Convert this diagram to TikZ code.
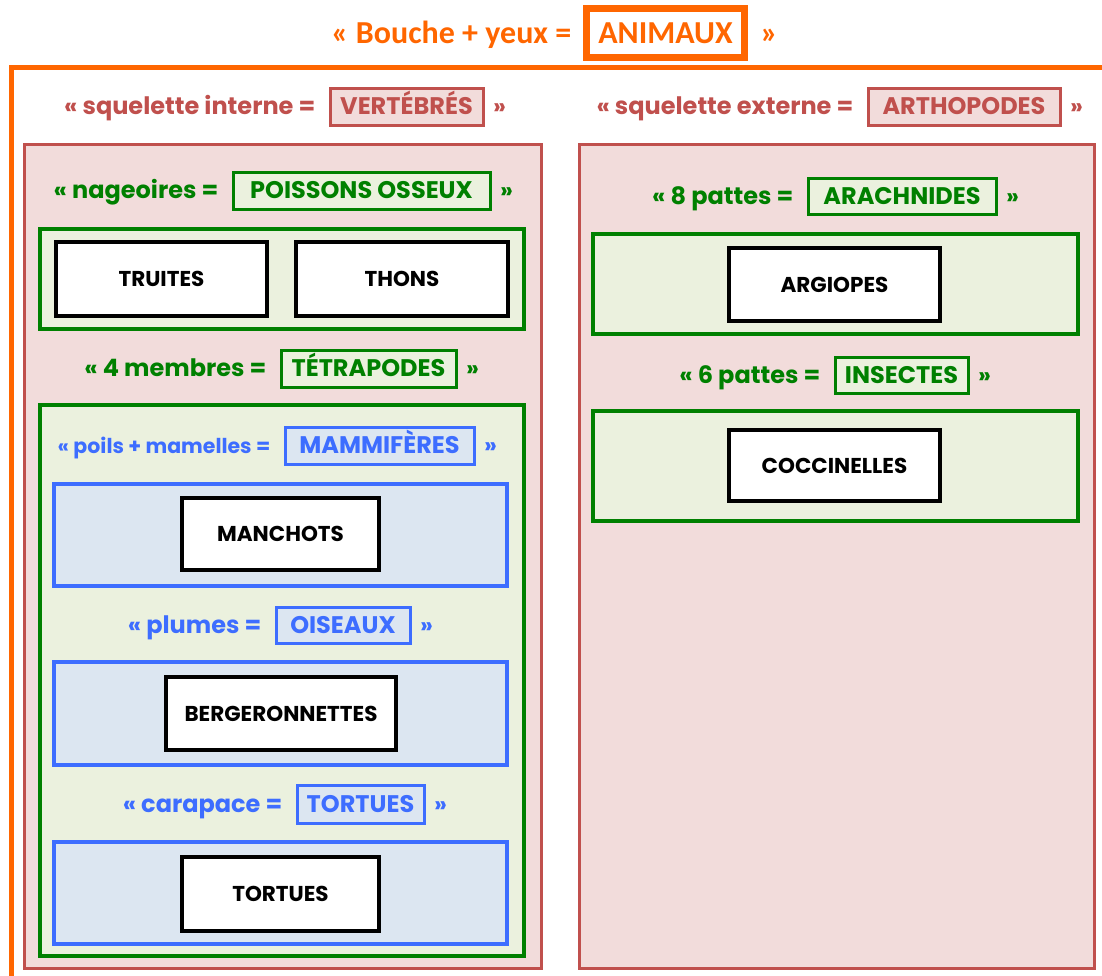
\documentclass[tikz,border=0pt]{standalone}
\usepackage{fontspec}
\setmainfont{Poppins}
\newfontfamily\titlefont{Carlito}
\usetikzlibrary{fit}
\definecolor{orng}{HTML}{FF6600}
\definecolor{redln}{HTML}{C0504D}
\definecolor{redfill}{HTML}{F2DCDB}
\definecolor{grn}{HTML}{008000}
\definecolor{grnfill}{HTML}{EBF1DE}
\definecolor{blu}{HTML}{3D6DFF}
\definecolor{blufill}{HTML}{DCE6F1}
\tikzset{
  redbox/.style={draw=redln, fill=redfill, line width=3pt, inner sep=0pt},
  grnbox/.style={draw=grn, fill=grnfill, line width=3.5pt, inner sep=0pt},
  blubox/.style={draw=blu, fill=blufill, line width=3.5pt, inner sep=0pt},
  animal/.style={draw=black, fill=white, line width=3.5pt, inner sep=0pt,
    text height=15pt, text depth=0pt,
    font=\bfseries\fontsize{21.5}{24}\selectfont},
  lbl/.style={line width=3pt, inner sep=0pt, text height=16.5pt, text depth=0pt},
  lbl-red/.style={lbl, draw=redln, fill=redfill, text=redln},
  lbl-grn/.style={lbl, draw=grn, fill=grnfill, text=grn},
  lbl-blu/.style={lbl, draw=blu, fill=blufill, text=blu},
  side-red/.style={text=redln, inner sep=0pt},
  side-grn/.style={text=grn, inner sep=0pt},
  side-blu/.style={text=blu, inner sep=0pt},
}
% #1 name, #2 x, #3 y, #4 w, #5 h, #6 colour key, #7 font, #8 left text, #9 box text
\newcommand\hdr[9]{%
  \node[lbl-#6, minimum width=#4, minimum height=#5, font=\bfseries\fontsize{24}{28}\selectfont] (#1) at (#2,#3) {#9};
  \node[side-#6, anchor=base east, font=\bfseries#7] (#1L) at ([xshift=-13pt]#1.base west) {#8};
  \node[side-#6, anchor=base west, font=\bfseries\fontsize{23}{26}\selectfont] (#1R) at ([xshift=8.5pt]#1.base east) {»};
}
\begin{document}
\begin{tikzpicture}[x=1pt,y=-1pt]
\useasboundingbox (0,0) rectangle (1102,975);
\fill[white] (0,0) rectangle (1102,975);
% outer orange frame (open to the right and bottom)
\begin{scope}
  \clip (0,0) rectangle (1102,975);
  \draw[orng, line width=5pt] (11.5,67) rectangle (1130,1010);
\end{scope}
% title
\node[draw=orng, fill=white, line width=7pt, minimum width=158, minimum height=49,
  inner sep=0pt, text=orng, text height=20.5pt, text depth=0pt,
  font=\titlefont\bfseries\fontsize{32}{36}\selectfont] (anim) at (665.5,33) {ANIMAUX};
\node[text=orng, anchor=base east, inner sep=0pt, font=\titlefont\bfseries\fontsize{32}{36}\selectfont]
  (animL) at ([xshift=-11.5pt]anim.base west) {« Bouche + yeux =};
\node[text=orng, anchor=base west, inner sep=0pt, font=\titlefont\bfseries\fontsize{32}{36}\selectfont]
  (animR) at ([xshift=12.5pt]anim.base east) {»};

% red sections
\node[redbox, fit={(24,144) (541,968)}] (vertbox) {};
\node[redbox, fit={(579,144) (1094,968)}] (arthbox) {};
\hdr{vert}{406.5}{106.5}{153}{37}{red}{\fontsize{24}{28}\selectfont}{« squelette interne =}{VERTÉBRÉS}
\hdr{arth}{964}{106.5}{192}{37}{red}{\fontsize{24}{28}\selectfont}{« squelette externe =}{ARTHOPODES}

% left column
\hdr{pois}{361.5}{190.5}{257}{37}{grn}{\fontsize{24}{28}\selectfont}{« nageoires =}{POISSONS OSSEUX}
\node[grnbox, fit={(40,229) (524,329)}] (poisbox) {};
\node[animal, minimum width=211, minimum height=74] (truites) at (161.5,279) {TRUITES};
\node[animal, minimum width=212, minimum height=74] (thons) at (402,279) {THONS};

\hdr{tetra}{368.5}{368.5}{175}{37}{grn}{\fontsize{24}{28}\selectfont}{« 4 membres =}{TÉTRAPODES}
\node[grnbox, fit={(40,405) (524,956)}] (tetrabox) {};

\hdr{mamm}{379.5}{445.5}{189}{37}{blu}{\fontsize{20.5}{24}\selectfont}{« poils + mamelles =}{MAMMIFÈRES}
\node[blubox, fit={(54,484) (507,586)}] (mammbox) {};
\node[animal, minimum width=197, minimum height=72] (manchots) at (280.5,534) {MANCHOTS};

\hdr{ois}{343}{625}{134}{36}{blu}{\fontsize{24}{28}\selectfont}{« plumes =}{OISEAUX}
\node[blubox, fit={(54,662) (507,765)}] (oisbox) {};
\node[animal, minimum width=230, minimum height=73] (berg) at (281,713.5) {BERGERONNETTES};

\hdr{tort}{360.5}{804}{127}{38}{blu}{\fontsize{24}{28}\selectfont}{« carapace =}{TORTUES}
\node[blubox, fit={(54,842) (507,944)}] (tortbox) {};
\node[animal, minimum width=197, minimum height=74] (tortues) at (280.5,894) {TORTUES};

% right column
\hdr{arach}{902}{196}{188}{36}{grn}{\fontsize{24}{28}\selectfont}{« 8 pattes =}{ARACHNIDES}
\node[grnbox, fit={(593,234) (1078,334)}] (arachbox) {};
\node[animal, minimum width=211, minimum height=73] (argiopes) at (834.5,284.5) {ARGIOPES};

\hdr{insect}{901.5}{375}{133}{36}{grn}{\fontsize{24}{28}\selectfont}{« 6 pattes =}{INSECTES}
\node[grnbox, fit={(593,411) (1078,521)}] (insectbox) {};
\node[animal, minimum width=211, minimum height=71] (cocci) at (834.5,465.5) {COCCINELLES};
\end{tikzpicture}
\end{document}
